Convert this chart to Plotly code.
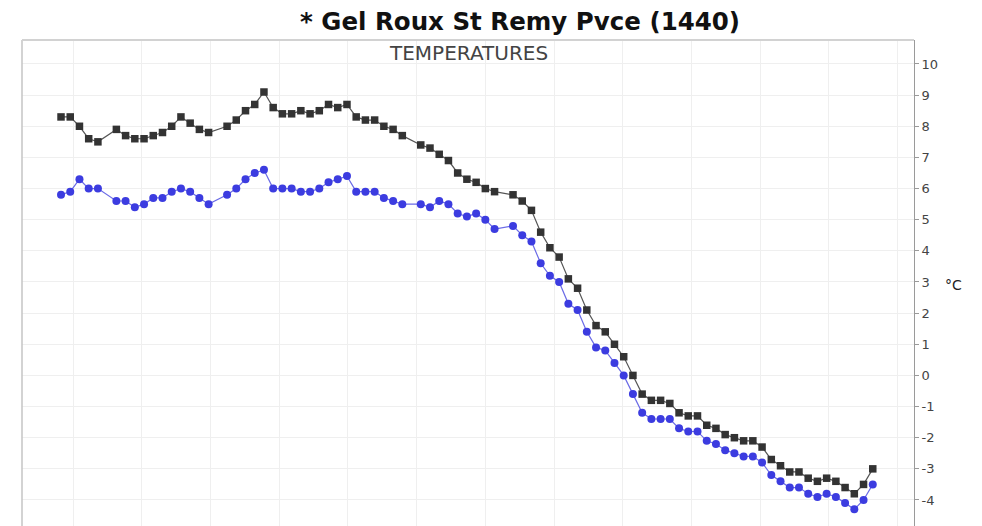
import plotly.graph_objects as go

# Sample index (regular time steps); some steps have no reading
steps = list(range(89))

# Upper series (black squares), degrees C
temp_black = [8.3, 8.3, 8.0, 7.6, 7.5, None, 7.9, 7.7, 7.6, 7.6,
              7.7, 7.8, 8.0, 8.3, 8.1, 7.9, 7.8, None, 8.0, 8.2,
              8.5, 8.7, 9.1, 8.6, 8.4, 8.4, 8.5, 8.4, 8.5, 8.7,
              8.6, 8.7, 8.3, 8.2, 8.2, 8.0, 7.9, 7.7, None, 7.4,
              7.3, 7.1, 6.9, 6.5, 6.3, 6.2, 6.0, 5.9, None, 5.8,
              5.6, 5.3, 4.6, 4.1, 3.8, 3.1, 2.8, 2.1, 1.6, 1.4,
              1.0, 0.6, 0.0, -0.6, -0.8, -0.8, -0.9, -1.2, -1.3, -1.3,
              -1.6, -1.7, -1.9, -2.0, -2.1, -2.1, -2.3, -2.7, -2.9, -3.1,
              -3.1, -3.3, -3.4, -3.3, -3.4, -3.6, -3.8, -3.5, -3.0]

# Lower series (blue circles), degrees C
temp_blue = [5.8, 5.9, 6.3, 6.0, 6.0, None, 5.6, 5.6, 5.4, 5.5,
             5.7, 5.7, 5.9, 6.0, 5.9, 5.7, 5.5, None, 5.8, 6.0,
             6.3, 6.5, 6.6, 6.0, 6.0, 6.0, 5.9, 5.9, 6.0, 6.2,
             6.3, 6.4, 5.9, 5.9, 5.9, 5.7, 5.6, 5.5, None, 5.5,
             5.4, 5.6, 5.5, 5.2, 5.1, 5.2, 5.0, 4.7, None, 4.8,
             4.5, 4.3, 3.6, 3.2, 3.0, 2.3, 2.1, 1.4, 0.9, 0.8,
             0.4, 0.0, -0.6, -1.2, -1.4, -1.4, -1.4, -1.7, -1.8, -1.8,
             -2.1, -2.2, -2.4, -2.5, -2.6, -2.6, -2.8, -3.2, -3.4, -3.6,
             -3.6, -3.8, -3.9, -3.8, -3.9, -4.1, -4.3, -4.0, -3.5]

y_ticks = list(range(-4, 11))

title_text = "* Gel Roux St Remy Pvce (1440)"
subtitle_text = "TEMPERATURES"
unit_text = "°C"

W, H = 974, 518  # page adds an 8px body margin
PLOT_W = 914.5 - 22
PLOT_H = 526 - 40

fig = go.Figure()
fig.add_trace(go.Scatter(
    x=steps, y=temp_blue, mode="lines+markers", connectgaps=True,
    line=dict(color="#6b6be6", width=1.2),
    marker=dict(symbol="circle", size=8, color="#3c3ce0"),
    showlegend=False, hoverinfo="y"))
fig.add_trace(go.Scatter(
    x=steps, y=temp_black, mode="lines+markers", connectgaps=True,
    line=dict(color="#555555", width=1.2),
    marker=dict(symbol="square", size=7.5, color="#333333"),
    showlegend=False, hoverinfo="y"))

fig.update_layout(
    width=W, height=H,
    margin=dict(l=14, r=67.5, t=32, b=0, pad=0),
    paper_bgcolor="white", plot_bgcolor="white",
    font=dict(family="DejaVu Sans", color="#444444"),
    title=dict(text="<b>" + title_text + "</b>", x=(520 - 8) / W, xref="container",
               xanchor="center", y=1 - 13 / H, yref="container", yanchor="middle",
               font=dict(family="DejaVu Sans", size=24.5, color="#111111")),
    xaxis=dict(range=[-4.23, 92.47], showticklabels=False, ticks="",
               showgrid=True, gridcolor="#efefef", gridwidth=1,
               tick0=1.3, dtick=7.45, zeroline=False, showline=False),
    yaxis=dict(side="right", range=[-4.835, 10.77], tickmode="array",
               tickvals=y_ticks, ticktext=[str(v) for v in y_ticks],
               showgrid=True, gridcolor="#efefef", gridwidth=1, zeroline=False,
               showline=True, linecolor="#9a9a9a", linewidth=1,
               ticks="outside", ticklen=4, tickcolor="#9a9a9a",
               tickfont=dict(size=13, color="#444444")),
    shapes=[
        dict(type="line", xref="paper", yref="paper", x0=0, x1=0, y0=0, y1=1,
             line=dict(color="#c4c4c4", width=1.5)),
        dict(type="line", xref="paper", yref="paper", x0=0, x1=1, y0=1, y1=1,
             line=dict(color="#d2d2d2", width=2)),
    ],
    annotations=[
        dict(text=subtitle_text, xref="paper", yref="paper", x=0.5, y=1 - 13 / PLOT_H,
             xanchor="center", yanchor="middle", showarrow=False,
             font=dict(size=20, color="#444444")),
        dict(text=unit_text, xref="paper", yref="paper", x=(954 - 22) / PLOT_W,
             y=1 - 245 / PLOT_H, xanchor="center", yanchor="middle", showarrow=False,
             font=dict(size=14, color="#222222")),
    ],
)

fig.write_html("out.html")
